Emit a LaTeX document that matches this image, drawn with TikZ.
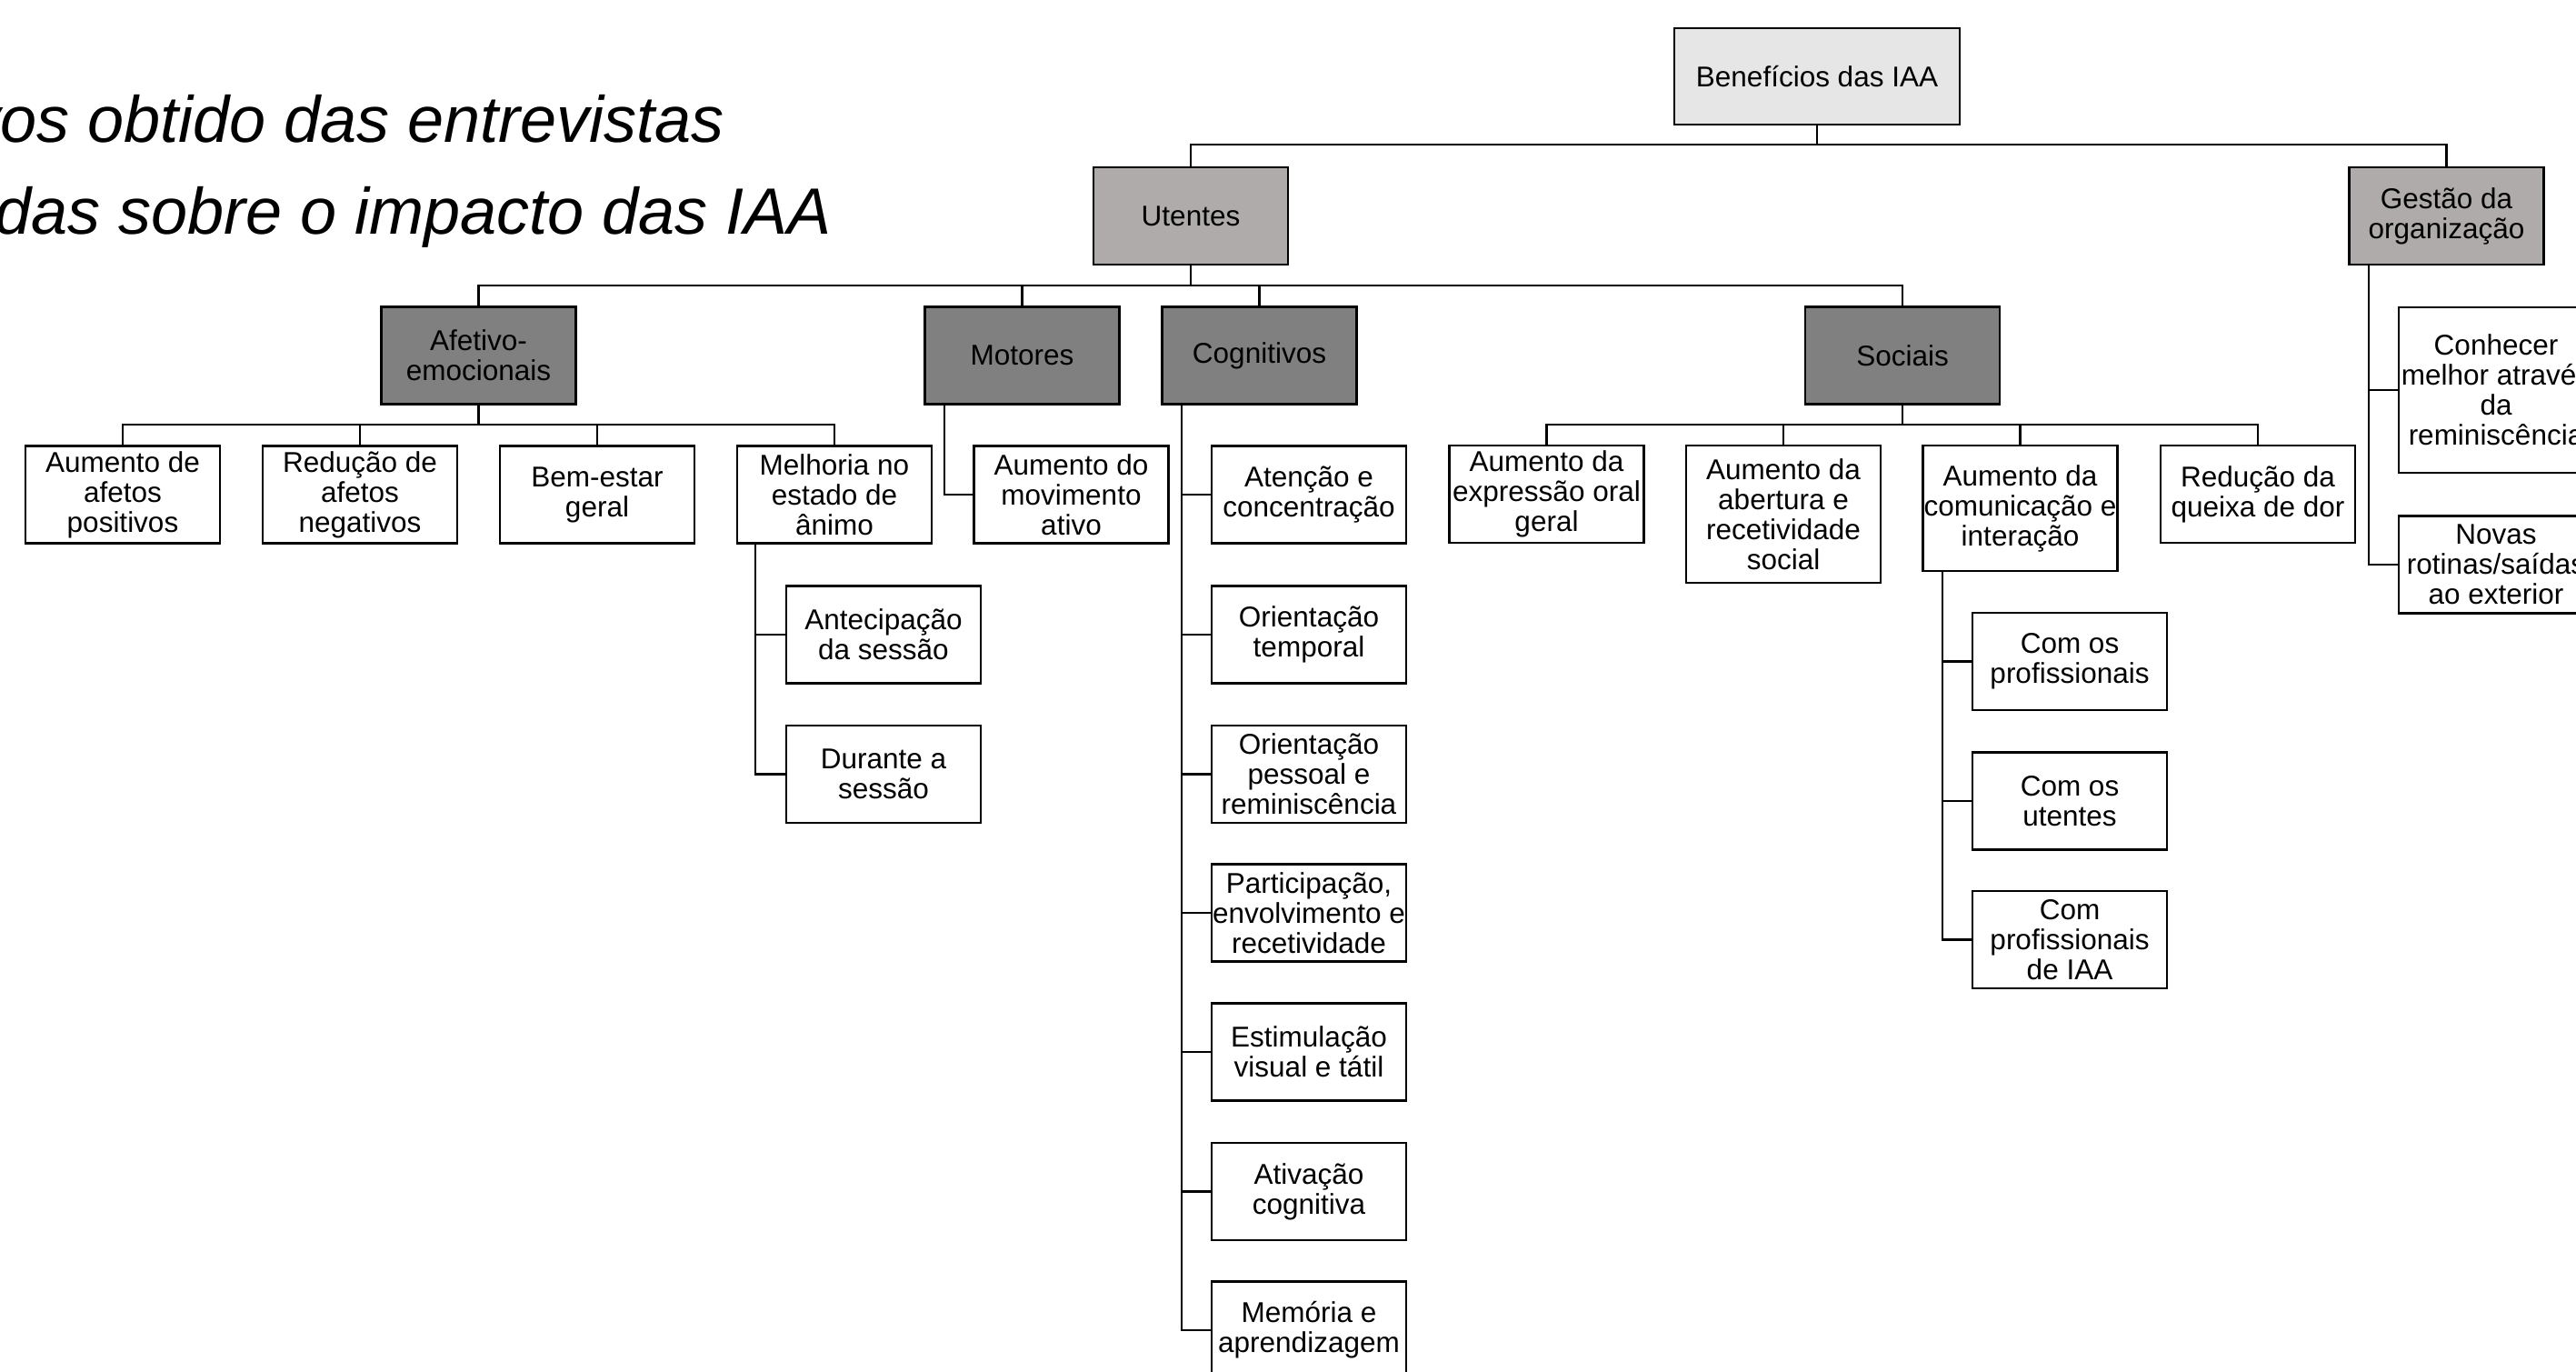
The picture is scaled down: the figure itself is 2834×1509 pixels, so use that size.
\documentclass[tikz,border=0pt]{standalone}
\usepackage{fontspec}
\setmainfont{Liberation Sans}
\definecolor{lvzero}{RGB}{230,230,230}
\definecolor{lvone}{RGB}{174,171,170}
\definecolor{lvtwo}{RGB}{128,128,128}
\tikzset{
  basebox/.style={draw=black, line width=2.6pt, inner sep=0pt, align=center,
    font=\fontsize{31.5}{33}\selectfont, minimum width=214pt, minimum height=107pt},
  leaf/.style={basebox, fill=white},
  topbox/.style={basebox, fill=lvzero},
  grpbox/.style={basebox, fill=lvone},
  catbox/.style={basebox, fill=lvtwo},
  conn/.style={draw=black, line width=2.4pt},
  titletext/.style={anchor=base west, inner sep=0pt, font=\fontsize{72}{99}\selectfont\itshape}
}
\begin{document}
\begin{tikzpicture}[x=1pt,y=-1pt]
\path[use as bounding box] (0,0) rectangle (2834,1509);
\fill[white] (0,0) rectangle (2834,1509);
\clip (0,0) rectangle (2834,1509);

% title
\node[titletext] (t1) at (-36,157) {vos obtido das entrevistas};
\node[titletext] (t2) at (-6,257) {das sobre o impacto das IAA};

% level 0
\node[topbox, minimum width=314pt, minimum height=106pt] (ben) at (1999,84) {Benefícios das IAA};
% level 1
\node[grpbox] (ute) at (1310,237.5) {Utentes};
\node[grpbox] (ges) at (2691.5,237.5) {Gestão da\\organização};
% level 2
\node[catbox] (afe) at (526.5,391) {Afetivo-\\emocionais};
\node[catbox] (mot) at (1124.5,391) {Motores};
\node[catbox] (cog) at (1385.5,391) {Cognitivos};
\node[catbox] (soc) at (2093,391) {Sociais};

% afetivo children
\node[leaf] (a1) at (135,544) {Aumento de\\afetos\\positivos};
\node[leaf] (a2) at (396,544) {Redução de\\afetos\\negativos};
\node[leaf] (a3) at (657,544) {Bem-estar\\geral};
\node[leaf] (a4) at (918,544) {Melhoria no\\estado de\\ânimo};
\node[leaf] (a41) at (972,698) {Antecipação\\da sessão};
\node[leaf] (a42) at (972,851.5) {Durante a\\sessão};

% motores
\node[leaf] (m1) at (1178.5,544) {Aumento do\\movimento\\ativo};

% cognitivos
\node[leaf] (c1) at (1440,544) {Atenção e\\concentração};
\node[leaf] (c2) at (1440,698) {Orientação\\temporal};
\node[leaf] (c3) at (1440,851.5) {Orientação\\pessoal e\\reminiscência};
\node[leaf] (c4) at (1440,1004) {Participação,\\envolvimento e\\recetividade};
\node[leaf] (c5) at (1440,1157) {Estimulação\\visual e tátil};
\node[leaf] (c6) at (1440,1310.5) {Ativação\\cognitiva};
\node[leaf] (c7) at (1440,1463) {Memória e\\aprendizagem};

% sociais
\node[leaf] (s1) at (1701.5,543.5) {Aumento da\\expressão oral\\geral};
\node[leaf, minimum height=151pt] (s2) at (1962,565.5) {Aumento da\\abertura e\\recetividade\\social};
\node[leaf, minimum height=138pt] (s3) at (2222.5,559) {Aumento da\\comunicação e\\interação};
\node[leaf] (s4) at (2484,543.5) {Redução da\\queixa de dor};
\node[leaf] (s31) at (2277,727.5) {Com os\\profissionais};
\node[leaf] (s32) at (2277,881) {Com os\\utentes};
\node[leaf] (s33) at (2277,1033.5) {Com\\profissionais\\de IAA};

% gestao
\node[leaf, minimum height=182pt] (g1) at (2746,429) {Conhecer\\melhor através\\da\\reminiscência};
\node[leaf] (g2) at (2746,621) {Novas\\rotinas/saídas\\ao exterior};

% connector helper coordinates
\coordinate (bus0) at (0,159);
\coordinate (bus1) at (0,314);
\coordinate (bus2) at (0,467);
\coordinate (a4t) at ([xshift=21pt]a4.south west);
\coordinate (mott) at ([xshift=23pt]mot.south west);
\coordinate (cogt) at ([xshift=23pt]cog.south west);
\coordinate (s3t) at ([xshift=23pt]s3.south west);
\coordinate (gest) at ([xshift=23pt]ges.south west);

% level 0 -> 1
\draw[conn] (ben.south) -- (ben.south |- bus0);
\draw[conn] (ute.north) |- (ges.north |- bus0) -- (ges.north);
% level 1 -> 2
\draw[conn] (ute.south) -- (ute.south |- bus1);
\draw[conn] (afe.north) |- (soc.north |- bus1) -- (soc.north);
\draw[conn] (mot.north) -- (mot.north |- bus1);
\draw[conn] (cog.north) -- (cog.north |- bus1);
% afetivo
\draw[conn] (afe.south) -- (afe.south |- bus2);
\draw[conn] (a1.north) |- (a4.north |- bus2) -- (a4.north);
\draw[conn] (a2.north) -- (a2.north |- bus2);
\draw[conn] (a3.north) -- (a3.north |- bus2);
\draw[conn] (a4t) |- (a42.west);
\draw[conn] (a4t |- a41.west) -- (a41.west);
% motores
\draw[conn] (mott) |- (m1.west);
% cognitivos
\draw[conn] (cogt) |- (c7.west);
\draw[conn] (cogt |- c1.west) -- (c1.west);
\draw[conn] (cogt |- c2.west) -- (c2.west);
\draw[conn] (cogt |- c3.west) -- (c3.west);
\draw[conn] (cogt |- c4.west) -- (c4.west);
\draw[conn] (cogt |- c5.west) -- (c5.west);
\draw[conn] (cogt |- c6.west) -- (c6.west);
% sociais
\draw[conn] (soc.south) -- (soc.south |- bus2);
\draw[conn] (s1.north) |- (s4.north |- bus2) -- (s4.north);
\draw[conn] (s2.north) -- (s2.north |- bus2);
\draw[conn] (s3.north) -- (s3.north |- bus2);
\draw[conn] (s3t) |- (s33.west);
\draw[conn] (s3t |- s31.west) -- (s31.west);
\draw[conn] (s3t |- s32.west) -- (s32.west);
% gestao
\draw[conn] (gest) |- (g2.west);
\draw[conn] (gest |- g1.west) -- (g1.west);
\end{tikzpicture}
\end{document}
